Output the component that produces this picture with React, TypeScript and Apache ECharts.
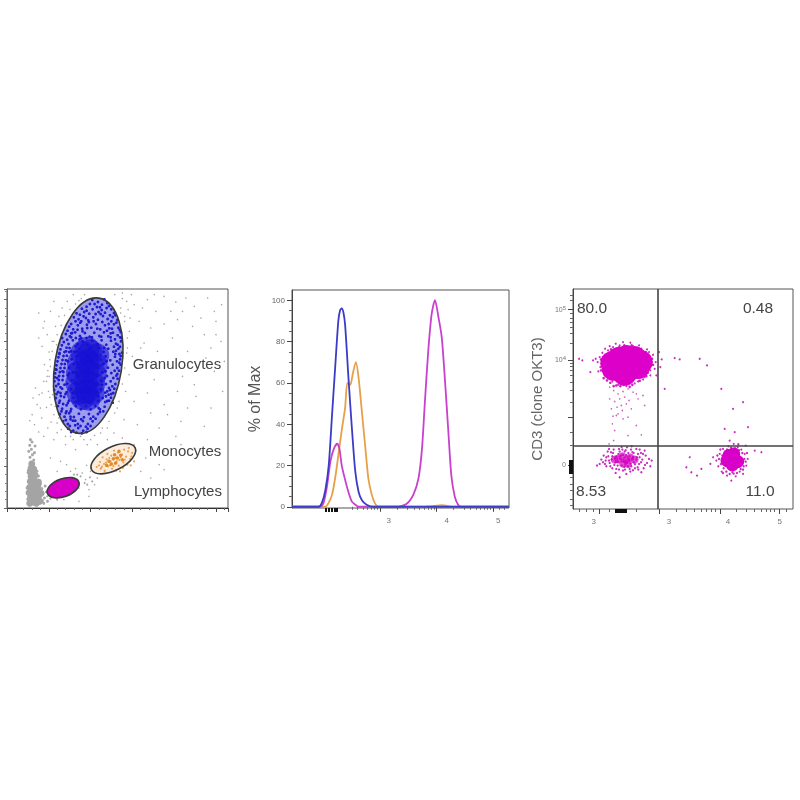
import React, { useEffect, useRef } from "react";
import * as echarts from "echarts";

const FONT = '"Liberation Sans", Arial, sans-serif';

// ---- Left panel (display channels) ----
const grayDense = [[68,14],[78,18],[88,14],[98,20],[70,30],[82,32],[94,34],[66,46],[78,48],[90,50],[102,44],[68,62],[80,64],[92,66],[70,80],[82,82],[94,78],[72,96],[84,98],[70,112],[80,116],[74,132]];
const grayColumn = [[66,14],[72,20],[80,12],[88,18],[97,15],[106,22],[68,30],[77,36],[86,28],[95,33],[104,40],[65,46],[74,52],[83,44],[92,50],[101,57],[69,62],[79,68],[88,60],[97,66],[64,78],[73,84],[82,74],[91,80],[100,72],[67,92],[76,98],[85,90],[94,96],[63,106],[72,112],[81,104],[90,110],[66,122],[75,128],[84,120],[71,138],[80,144],[69,152],[76,160],[65,170],[73,176],[82,166],[68,188],[75,198],[70,205],[84,186],[112,30],[118,48],[121,20],[114,66],[70,24],[90,40],[76,58],[84,82],[96,24],[104,58],[60,60],[62,26],[110,14]];
const grayScatter = [[75,280],[82,250],[68,262],[95,228],[110,215],[104,270],[122,240],[90,310],[140,205],[132,258],[150,226],[118,302],[128,332],[105,345],[140,360],[120,395],[112,430],[126,468],[135,500],[120,520],[108,540],[145,545],[155,575],[130,590],[165,600],[180,620],[198,640],[215,622],[232,640],[322,640],[345,628],[340,600],[358,620],[352,560],[366,530],[380,610],[420,625],[445,590],[470,635],[505,618],[525,590],[560,605],[600,630],[620,590],[642,610],[395,560],[430,540],[470,552],[510,565],[555,545],[590,520],[625,560],[360,480],[375,455],[410,495],[450,470],[495,510],[540,470],[610,480],[640,500],[365,400],[395,420],[440,385],[480,430],[525,395],[570,420],[620,410],[355,350],[380,320],[420,345],[470,310],[510,350],[565,335],[610,300],[645,350],[330,300],[350,265],[390,250],[430,285],[455,240],[520,260],[590,245],[300,240],[280,225],[320,225],[250,205],[220,215],[190,215],[240,190],[205,175],[175,190],[270,190],[300,205],[420,205],[470,170],[520,190],[455,130],[400,110],[430,90],[270,90],[262,70],[250,110],[238,128],[225,105],[215,60],[235,85],[205,118],[190,110],[178,130],[160,140],[245,55],[282,120],[292,110],[142,80],[150,110],[130,150],[135,60],[150,38],[170,25],[215,20],[245,35],[155,60]];
const grayHalo = [[150,520],[162,548],[172,578],[188,596],[205,612],[222,628],[340,585],[352,575],[345,645],[362,595],[368,570],[372,640],[135,470],[128,445],[122,412],[118,380],[124,350],[132,310],[140,280],[150,255],[162,235],[175,215],[198,205],[230,205],[262,218],[285,240],[305,260],[322,285],[335,320],[345,372],[352,420],[358,465],[360,510],[140,500],[148,490],[130,425],[126,395],[136,340],[144,305],[155,270],[110,380],[100,300],[96,340],[85,360],[78,330],[160,495],[105,485],[95,510],[112,560],[95,585],[140,620],[400,480],[415,440],[435,420],[405,600],[440,640],[490,590],[535,630],[580,570],[625,520],[595,450],[650,440],[560,370],[480,280],[540,300],[380,190],[345,210],[505,215],[560,180],[415,150],[470,115]];
const lymphGray = [[120,35],[130,28],[138,42],[125,55],[150,25],[145,70],[220,95],[210,100],[232,75],[240,70],[248,92],[255,80],[200,100]];
const blueDots = [[255,624],[272,618],[291,626],[248,612],[284,610],[300,615],[224,598],[238,604],[256,596],[269,603],[283,594],[298,600],[312,596],[231,588],[200,572],[214,566],[229,575],[243,563],[258,572],[272,565],[287,576],[301,567],[316,573],[330,564],[208,584],[246,583],[293,586],[320,585],[186,544],[198,536],[212,548],[225,538],[239,550],[252,541],[266,552],[279,536],[293,548],[306,539],[320,551],[333,541],[340,528],[176,522],[188,515],[204,527],[218,516],[233,525],[247,514],[261,526],[276,516],[290,527],[303,515],[317,526],[331,518],[343,510],[170,498],[184,492],[197,503],[211,491],[226,500],[240,490],[255,502],[270,491],[283,503],[297,490],[311,502],[326,493],[341,500],[160,476],[172,468],[187,480],[201,469],[216,478],[231,466],[246,477],[260,467],[275,480],[289,468],[303,478],[318,469],[333,478],[344,466],[154,452],[166,444],[179,457],[193,446],[208,455],[223,444],[238,454],[253,442],[267,456],[281,445],[295,455],[309,443],[323,454],[338,446],[148,428],[160,420],[173,432],[186,421],[200,431],[215,420],[231,429],[246,418],[259,430],[274,420],[288,432],[302,421],[316,430],[330,420],[340,430],[144,404],[156,396],[169,408],[182,398],[197,407],[212,396],[227,406],[243,395],[256,406],[270,396],[285,407],[299,396],[312,405],[327,397],[142,380],[154,372],[166,384],[180,373],[194,383],[209,372],[224,382],[240,371],[254,383],[268,372],[282,382],[296,372],[310,380],[324,372],[141,354],[153,348],[165,358],[178,347],[192,357],[207,346],[222,356],[238,345],[252,357],[266,347],[280,356],[294,346],[308,354],[318,345],[146,330],[158,322],[171,333],[185,322],[199,331],[214,321],[230,331],[244,320],[258,332],[272,322],[286,330],[300,321],[311,331],[152,306],[165,298],[178,308],[192,297],[206,306],[221,296],[236,306],[250,296],[264,306],[278,296],[292,304],[158,282],[172,274],[186,284],[200,273],[215,283],[230,272],[245,282],[258,274],[272,282],[168,260],[182,252],[197,262],[212,252],[227,261],[242,252],[256,260],[183,238],[198,232],[213,240],[228,232],[241,238],[166,410],[177,470],[206,510],[222,560],[310,524],[324,462],[330,402],[305,360],[160,345],[178,290],[190,266],[274,300],[296,335],[150,390],[148,415],[238,592],[274,588],[304,552],[192,524],[338,484],[336,462],[157,462],[316,316],[300,350]];
const blueDots2 = [[262,612],[278,602],[305,606],[218,580],[236,570],[265,582],[280,582],[308,578],[324,578],[192,552],[205,560],[219,556],[245,558],[259,560],[285,558],[312,560],[327,556],[181,532],[195,525],[211,535],[226,530],[240,540],[270,538],[299,532],[314,538],[337,535],[165,510],[180,505],[192,512],[217,506],[254,512],[282,514],[310,512],[323,506],[338,512],[164,488],[178,481],[205,485],[320,484],[331,490],[157,465],[169,456],[186,468],[326,472],[340,456],[151,440],[163,432],[176,443],[329,440],[336,436],[146,416],[158,408],[172,420],[322,412],[335,412],[143,392],[155,384],[168,396],[318,390],[331,388],[147,366],[160,362],[172,370],[315,365],[321,358],[148,342],[161,336],[175,342],[304,340],[312,342],[156,316],[168,312],[182,315],[294,318],[305,322],[163,290],[176,285],[190,290],[278,288],[288,290],[176,264],[190,274],[204,262],[222,266],[250,268],[265,268],[188,246],[204,248],[220,246],[236,244],[250,246],[192,228],[208,226],[224,224],[238,228],[208,470],[222,510],[238,510],[290,480],[298,440],[295,410],[292,390],[285,370],[272,335],[205,318],[196,345],[186,405],[182,440],[192,470]];
const blueCore = [[225,465],[250,470],[270,458],[215,435],[240,440],[265,430],[212,405],[238,410],[262,400],[210,375],[235,378],[258,372],[214,345],[238,348],[256,345],[226,330],[244,328],[240,478]];
const orangeDots = [[268,123],[280,118],[292,112],[278,138],[290,132],[302,125],[314,118],[326,112],[286,152],[298,146],[310,140],[322,133],[334,127],[346,120],[300,162],[312,157],[324,150],[336,144],[348,137],[360,130],[370,128],[320,172],[332,166],[344,160],[356,154],[368,147],[380,140],[350,175],[362,170],[374,165],[364,180],[328,140],[318,126],[340,152],[308,128],[296,136],[352,145],[306,150],[275,128],[284,124],[338,110],[372,155]];
const orangeCore = [[305,140],[318,148],[330,150],[312,132],[325,135],[340,158],[345,145],[298,128],[335,170],[322,160]];
// ---- Gates: centre x, centre y, radius along, radius across, tilt degrees ----
const leftGates = [[243,427,100,205,-9],[318,148,73,35,27],[168,61,50,27,20]];
const leftGateFill = ["rgba(60,60,220,0.5)","rgba(240,180,110,0.25)","#d800c8"];

// ---- Middle panel: histograms [log10 intensity, % of max] ----
const orangeCurve = [[1.44,0],[2.03,0],[2.09,2],[2.15,6],[2.21,15],[2.26,25],[2.32,37],[2.38,48],[2.42,60],[2.47,59],[2.52,65],[2.57,70],[2.62,62],[2.68,45],[2.74,28],[2.79,14],[2.85,6],[2.91,1.5],[2.97,0],[3.7,0],[3.95,0.4],[4.1,0.8],[4.2,0.3],[4.3,0],[5.28,0]];
const magentaCurve = [[1.44,0],[1.94,0],[2,2],[2.06,10],[2.12,22],[2.18,28],[2.24,30.5],[2.28,28],[2.32,20],[2.38,13],[2.44,7],[2.5,2.5],[2.56,1],[2.62,0],[3.29,0],[3.47,1.5],[3.59,6],[3.68,14],[3.74,28],[3.79,50],[3.85,75],[3.91,93],[3.97,100],[4.03,92],[4.09,82],[4.15,60],[4.21,35],[4.26,15],[4.32,5],[4.38,1],[4.44,0],[5.28,0]];
const blueCurve = [[1.44,0],[1.91,0],[1.97,2],[2.03,8],[2.09,20],[2.15,45],[2.21,70],[2.26,90],[2.29,95],[2.32,96],[2.35,94],[2.38,88],[2.44,62],[2.5,38],[2.56,17],[2.62,7],[2.68,3],[2.76,1],[2.88,0],[5.28,0]];
const pctTicks = [0,20,40,60,80,100];
const pctMinorTicks = [5,10,15,25,30,35,45,50,55,65,70,75,85,90,95];
const histXMajor = [3,4,5];
const histXMinor = [2.5,2.6,2.7,2.78,2.85,2.9,2.95,3.3,3.48,3.6,3.7,3.78,3.85,3.9,3.95,4.3,4.48,4.6,4.7,4.78,4.85,4.9,4.95,5.1,5.2];
const histXBlob = [2.04,2.09,2.14,2.19,2.24];
const histXLabels = ["3","4","5"];
const histXLabelPos = [3.15,4.18,5.09];

// ---- Right panel (display channels) ----
const tCellCore = [[118,437],[138,450],[160,455],[185,452],[203,440],[122,420],[145,420],[170,420],[195,425],[160,440],[135,435],[185,435],[155,405]];
const tCellDots = [[74,440],[82,425],[80,455],[88,468],[92,412],[96,480],[105,395],[110,488],[118,382],[128,495],[135,372],[150,500],[160,368],[172,498],[185,376],[198,490],[210,388],[222,478],[232,400],[240,462],[245,420],[248,440],[232,415],[238,450],[90,445],[95,400],[105,475],[120,485],[140,490],[180,488],[205,480],[228,470],[215,395],[195,382],[140,378],[124,392],[100,420],[76,412],[68,450],[60,445],[52,410],[18,450],[28,445],[258,470],[262,425],[250,400],[266,448],[305,452],[320,448],[380,450],[402,430],[275,360],[445,360]];
const tCellHalo = [[86,435],[84,448],[84,415],[90,455],[96,462],[92,392],[100,408],[102,385],[108,468],[112,378],[114,478],[122,368],[126,478],[130,386],[138,484],[142,368],[148,382],[154,490],[160,380],[166,486],[170,366],[178,372],[184,482],[192,476],[200,384],[206,472],[214,464],[220,398],[224,408],[228,456],[234,430],[236,440],[240,432],[226,425],[96,430],[102,452],[92,425],[108,402],[110,460],[118,470],[130,370],[152,372],[176,490],[204,396],[218,470]];
const tCellTail = [[110,365],[122,355],[135,345],[150,352],[165,360],[180,350],[110,330],[125,322],[140,330],[155,335],[168,325],[190,345],[210,340],[115,300],[132,305],[148,295],[160,315],[175,300],[195,330],[120,278],[135,285],[150,270],[118,255],[165,275],[215,310],[125,235],[190,250],[165,220],[205,222],[122,205],[108,195],[130,280],[145,310]];
const dnDots = [[85,148],[92,160],[96,135],[104,172],[108,145],[112,128],[118,158],[122,178],[128,140],[130,120],[136,165],[138,180],[142,150],[146,130],[150,115],[155,172],[158,145],[162,185],[165,128],[170,158],[172,112],[178,170],[182,140],[186,122],[190,180],[192,155],[198,135],[204,168],[208,148],[212,122],[218,160],[222,138],[228,150],[232,128],[100,155],[114,170],[126,152],[148,178],[175,128],[195,165],[215,175],[236,145],[80,135],[72,130],[128,108],[160,105],[205,110],[140,95],[152,142],[168,148],[180,155],[144,160],[160,162],[172,136],[135,140]];
const dnExtra = [[98,145],[106,158],[110,138],[116,148],[120,168],[124,132],[130,158],[134,130],[140,172],[146,142],[150,162],[154,126],[158,176],[162,138],[166,168],[170,120],[174,178],[178,150],[182,168],[186,134],[190,148],[194,125],[200,155],[204,140],[210,165],[216,132],[118,122],[138,118],[156,118],[180,116],[196,118],[90,140],[100,128],[108,180],[146,186],[176,188],[200,178]];
const dnCore = [[135,150],[148,158],[160,148],[172,154],[150,136],[165,135],[185,148],[125,148]];
const bCellDots = [[430,145],[436,128],[440,165],[446,112],[450,180],[455,150],[458,130],[462,100],[466,188],[472,172],[478,110],[482,195],[488,98],[494,185],[500,112],[505,178],[510,105],[515,165],[520,130],[524,150],[518,190],[470,205],[350,155],[340,125],[355,110],[385,120],[372,100],[420,155],[412,135],[475,85],[565,170],[545,175],[455,240],[485,230],[480,300],[525,245],[510,320]];
const bCellHalo = [[438,150],[444,135],[448,160],[452,122],[456,172],[460,112],[462,178],[470,105],[474,184],[482,106],[486,182],[492,108],[498,176],[503,120],[508,168],[512,128],[514,150],[518,142],[442,178],[450,108],[496,194],[510,118],[433,160],[522,168]];
const bCellCore = [[462,145],[478,132],[494,142],[480,150],[482,165],[468,160]];
const quadrantGateX = [254];
const quadrantGateY = [190];
const rightXMajor = [80,260,442,620];
const rightXMinor = [20,40,60,110,190,310,340,365,385,400,415,428,490,520,545,565,580,592,605,640];
const rightXBlob = [128,134,140,146,152,158];
const rightXLabels = ["3","3","4","5"];
const rightXLabelPos = [62,288,465,620];
const rightYMajor = [132,274,447,597];
const rightYMinor = [10,30,55,75,95,190,230,320,355,380,400,415,428,438,495,525,545,560,572,585,625,640];
const rightYBlob = [110,116,122,128,134,140,146];
const rightYLabels = ["0","","{b|10}{s|4}","{b|10}{s|5}"];

const labelTexts = [
  { t: "Granulocytes", x: 177, y: 363 },
  { t: "Monocytes", x: 185, y: 450 },
  { t: "Lymphocytes", x: 178, y: 490 },
];
const quadrantTexts = [
  { t: "80.0", x: 592, y: 307 },
  { t: "0.48", x: 758, y: 307 },
  { t: "8.53", x: 591, y: 490 },
  { t: "11.0", x: 760, y: 490 },
];

function tickAxis(dim: "x" | "y", gridIndex: number, min: number, max: number, values: number[], len: number, width: number, color: string) {
  return {
    type: "value", gridIndex, min, max, position: dim === "x" ? "bottom" : "left",
    axisLine: { show: false }, splitLine: { show: false }, axisLabel: { show: false },
    axisTick: { show: true, customValues: values, length: len, lineStyle: { width, color } },
  };
}
function labelAxis(dim: "x" | "y", gridIndex: number, min: number, max: number, values: number[], labels: string[], size: number, margin: number) {
  return {
    type: "value", gridIndex, min, max, position: dim === "x" ? "bottom" : "left",
    axisLine: { show: false }, splitLine: { show: false }, axisTick: { show: false },
    axisLabel: {
      show: true, customValues: values, margin, color: "#777", fontFamily: FONT, fontSize: size,
      showMinLabel: true, showMaxLabel: true, hideOverlap: false,
      formatter: (v: number) => labels[values.indexOf(v)] ?? "",
      rich: { b: { fontSize: 7, color: "#777", fontFamily: FONT }, s: { fontSize: 6, color: "#777", fontFamily: FONT, verticalAlign: "top", padding: [0, 0, 4, 0] } },
    },
  };
}

const gateItem = (mode: "fill" | "line", fills: string[]) => (params: any, api: any) => {
  const c = api.coord([api.value(0), api.value(1)]);
  const s = api.size([api.value(2), api.value(3)]);
  return {
    type: "ellipse", x: c[0], y: c[1], rotation: (api.value(4) * Math.PI) / 180,
    shape: { cx: 0, cy: 0, rx: s[0], ry: s[1] },
    style: mode === "fill" ? { fill: fills[params.dataIndex], stroke: "none" } : { fill: "none", stroke: "#3a3a3a", lineWidth: 1.6 },
  };
};
const dots = (xAxisIndex: number, yAxisIndex: number, data: number[][], color: string, size: number, opacity = 1, z = 4) => ({
  type: "scatter", xAxisIndex, yAxisIndex, data, symbolSize: size, silent: true, z,
  itemStyle: { color, opacity, borderWidth: 0 },
});
const curve = (data: number[][], color: string) => ({
  type: "line", xAxisIndex: 1, yAxisIndex: 1, data, showSymbol: false, smooth: 0.25,
  lineStyle: { color, width: 1.8 }, silent: true,
});

export default function App() {
  const ref = useRef<HTMLDivElement>(null);
  useEffect(() => {
    const chart = echarts.init(ref.current!, null, { renderer: "svg", width: 800, height: 800 });
    const border = (left: number, top: number, width: number, height: number) => ({ left, top, width, height, show: true, borderColor: "#555", borderWidth: 1, backgroundColor: "transparent" });
    chart.setOption({
      animation: false,
      backgroundColor: "#fff",
      grid: [border(7, 289, 221, 219), border(292, 290, 217, 218), border(573, 289, 220, 220)],
      xAxis: [
        { type: "value", gridIndex: 0, min: 0, max: 661, interval: 125, axisLabel: { show: false }, splitLine: { show: false }, axisLine: { lineStyle: { color: "#333" } }, axisTick: { length: 4, lineStyle: { color: "#444" } }, minorTick: { show: true, splitNumber: 5, length: 2, lineStyle: { color: "#666" } } },
        tickAxis("x", 1, 1.44, 5.28, histXMajor, 5, 1, "#444"),
        tickAxis("x", 2, 0, 660, rightXMajor, 5, 1, "#444"),
        tickAxis("x", 1, 1.44, 5.28, histXMinor, 3, 1, "#666"),
        tickAxis("x", 1, 1.44, 5.28, histXBlob, 4, 2, "#111"),
        labelAxis("x", 1, 1.44, 5.28, histXLabelPos, histXLabels, 8, 8),
        tickAxis("x", 2, 0, 660, rightXMinor, 3, 1, "#666"),
        tickAxis("x", 2, 0, 660, rightXBlob, 4, 2, "#111"),
        labelAxis("x", 2, 0, 660, rightXLabelPos, rightXLabels, 8, 8),
      ],
      yAxis: [
        { type: "value", gridIndex: 0, min: 0, max: 657, interval: 125, axisLabel: { show: false }, splitLine: { show: false }, axisLine: { lineStyle: { color: "#666" } }, axisTick: { length: 3, lineStyle: { color: "#666" } }, minorTick: { show: true, splitNumber: 5, length: 2, lineStyle: { color: "#888" } } },
        { ...tickAxis("y", 1, -0.6, 104.9, pctTicks, 5, 1, "#444"), axisLine: { show: true, lineStyle: { color: "#444" } }, name: "% of Max", nameLocation: "middle", nameGap: 30, nameTextStyle: { color: "#555", fontFamily: FONT, fontSize: 16 }, axisLabel: { show: true, customValues: pctTicks, margin: 7, color: "#666", fontFamily: FONT, fontSize: 8 } },
        { ...tickAxis("y", 2, 0, 659, rightYMajor, 5, 1, "#444"), axisLine: { show: true, lineStyle: { color: "#444" } }, name: "CD3 (clone OKT3)", nameLocation: "middle", nameGap: 29, nameTextStyle: { color: "#666", fontFamily: FONT, fontSize: 15 } },
        tickAxis("y", 1, -0.6, 104.9, pctMinorTicks, 3, 1, "#666"),
        tickAxis("y", 2, 0, 659, rightYMinor, 3, 1, "#666"),
        tickAxis("y", 2, 0, 659, rightYBlob, 4, 2, "#111"),
        labelAxis("y", 2, 0, 659, rightYMajor, rightYLabels, 7, 7),
      ],
      graphic: [
        ...labelTexts.map((l) => ({ type: "text", x: l.x, y: l.y, z: 50, style: { text: l.t, fill: "#444", font: `15px ${FONT}`, align: "center", verticalAlign: "middle" } })),
        ...quadrantTexts.map((l) => ({ type: "text", x: l.x, y: l.y, z: 50, style: { text: l.t, fill: "#444", font: `15.5px ${FONT}`, align: "center", verticalAlign: "middle" } })),
      ],
      series: [
        dots(0, 0, grayScatter, "#a8a8a8", 1.5, 1, 2),
        dots(0, 0, grayHalo, "#a8a8a8", 1.5, 1, 2),
        dots(0, 0, lymphGray, "#a8a8a8", 2, 1, 2),
        dots(0, 0, grayColumn, "#a8a8a8", 3, 1, 2),
        dots(0, 0, grayDense, "#a4a4a4", 7, 1, 2),
        { type: "custom", z: 3, xAxisIndex: 0, yAxisIndex: 0, data: leftGates, encode: { x: 0, y: 1 }, renderItem: gateItem("fill", leftGateFill), silent: true },
        dots(0, 0, blueDots, "#1f1bce", 2.8),
        dots(0, 0, blueDots2, "#1f1bce", 2.8),
        dots(0, 0, blueCore, "#1610d4", 24, 0.6),
        dots(0, 0, orangeDots, "#e8a050", 2),
        dots(0, 0, orangeCore, "#e28a2a", 3.5),
        { type: "custom", z: 5, xAxisIndex: 0, yAxisIndex: 0, data: leftGates, encode: { x: 0, y: 1 }, renderItem: gateItem("line", leftGateFill), silent: true },
        curve(orangeCurve, "#e8a048"),
        curve(magentaCurve, "#c940cf"),
        curve(blueCurve, "#3b3bc8"),
        dots(2, 2, tCellTail, "#cf5cc6", 1.6),
        dots(2, 2, tCellDots, "#c92cbf", 2),
        dots(2, 2, tCellHalo, "#cc20c0", 2.6),
        dots(2, 2, tCellCore, "#dc00c8", 24),
        dots(2, 2, dnDots, "#c830c0", 2.3),
        dots(2, 2, dnExtra, "#c830c0", 2.3),
        dots(2, 2, dnCore, "#d400c0", 8, 0.7),
        dots(2, 2, bCellDots, "#c92cbf", 2),
        dots(2, 2, bCellHalo, "#c92cbf", 2.4),
        {
          ...dots(2, 2, bCellCore, "#d800c8", 13),
          markLine: {
            silent: true, symbol: "none", label: { show: false }, animation: false,
            lineStyle: { color: "#444", width: 1.6, type: "solid" },
            data: [{ xAxis: quadrantGateX[0] }, { yAxis: quadrantGateY[0] }],
          },
        },
      ],
    });
    return () => chart.dispose();
  }, []);
  return <div ref={ref} style={{ position: "absolute", left: 0, top: 0, width: 800, height: 800, filter: "blur(0.7px)" }} />;
}
